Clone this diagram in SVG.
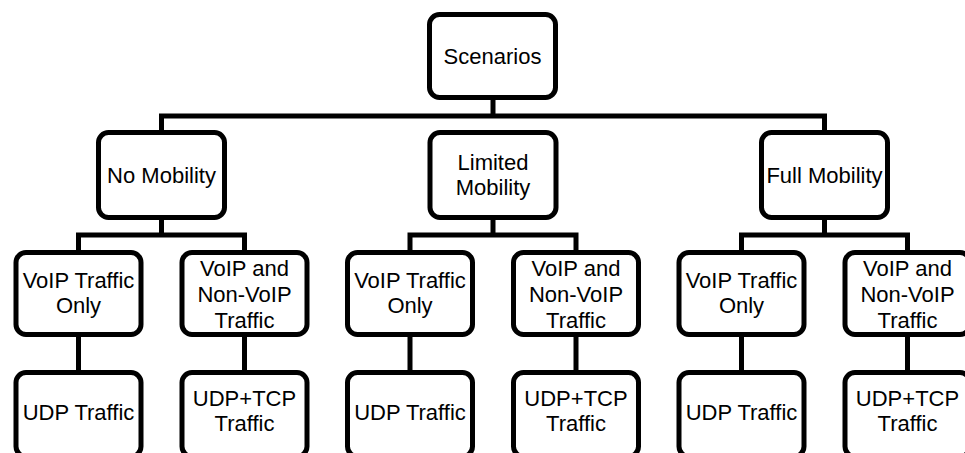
<svg xmlns="http://www.w3.org/2000/svg" width="965" height="453" viewBox="0 0 965 453">
<style>
.box{fill:#fff;stroke:#000;stroke-width:5}
.con{fill:none;stroke:#000;stroke-width:5;stroke-linejoin:miter}
text{font-family:"Liberation Sans",Arial,sans-serif;font-size:22px;fill:#000;text-anchor:middle}
</style>
<rect width="965" height="453" fill="#fff"/>
<g id="connectors" class="con">
<path d="M493 100V116"/>
<path d="M161.5 130V116H824.5V130"/>
<path d="M161.5 220V235M78.5 250V235H244.5V250"/>
<path d="M493 220V235M410 250V235H576V250"/>
<path d="M824.5 220V235M741.5 250V235H907.5V250"/>
<path d="M78.5 337V370M244.5 337V370M410 337V370M576 337V370M741.5 337V370M907.5 337V370"/>
</g>
<g id="scenarios"><rect class="box" x="429.5" y="14.5" width="126" height="83" rx="10"/><text x="492.5" y="64">Scenarios</text></g>
<g id="no-mobility"><rect class="box" x="98.5" y="132.5" width="126" height="85" rx="10"/><text x="161.5" y="183">No Mobility</text></g>
<g id="limited-mobility"><rect class="box" x="430" y="132.5" width="126" height="85" rx="10"/><text x="493" y="170">Limited</text><text x="493" y="195">Mobility</text></g>
<g id="full-mobility"><rect class="box" x="761.5" y="132.5" width="126" height="85" rx="10"/><text x="824.5" y="183">Full Mobility</text></g>

<g id="nm-voip-only"><rect class="box" x="16" y="252.5" width="125" height="82" rx="10"/><text x="78.5" y="288">VoIP Traffic</text><text x="78.5" y="313">Only</text></g>
<g id="nm-voip-nonvoip"><rect class="box" x="182" y="252.5" width="125" height="82" rx="10"/><text x="244.5" y="276">VoIP and</text><text x="244.5" y="302">Non-VoIP</text><text x="244.5" y="328">Traffic</text></g>
<g id="lm-voip-only"><rect class="box" x="347.5" y="252.5" width="125" height="82" rx="10"/><text x="410" y="288">VoIP Traffic</text><text x="410" y="313">Only</text></g>
<g id="lm-voip-nonvoip"><rect class="box" x="513.5" y="252.5" width="125" height="82" rx="10"/><text x="576" y="276">VoIP and</text><text x="576" y="302">Non-VoIP</text><text x="576" y="328">Traffic</text></g>
<g id="fm-voip-only"><rect class="box" x="679" y="252.5" width="125" height="82" rx="10"/><text x="741.5" y="288">VoIP Traffic</text><text x="741.5" y="313">Only</text></g>
<g id="fm-voip-nonvoip"><rect class="box" x="845" y="252.5" width="125" height="82" rx="10"/><text x="907.5" y="276">VoIP and</text><text x="907.5" y="302">Non-VoIP</text><text x="907.5" y="328">Traffic</text></g>

<g id="nm-udp"><rect class="box" x="16" y="372.5" width="125" height="84" rx="10"/><text x="78.5" y="420">UDP Traffic</text></g>
<g id="nm-udptcp"><rect class="box" x="182" y="372.5" width="125" height="84" rx="10"/><text x="244.5" y="406">UDP+TCP</text><text x="244.5" y="431">Traffic</text></g>
<g id="lm-udp"><rect class="box" x="347.5" y="372.5" width="125" height="84" rx="10"/><text x="410" y="420">UDP Traffic</text></g>
<g id="lm-udptcp"><rect class="box" x="513.5" y="372.5" width="125" height="84" rx="10"/><text x="576" y="406">UDP+TCP</text><text x="576" y="431">Traffic</text></g>
<g id="fm-udp"><rect class="box" x="679" y="372.5" width="125" height="84" rx="10"/><text x="741.5" y="420">UDP Traffic</text></g>
<g id="fm-udptcp"><rect class="box" x="845" y="372.5" width="125" height="84" rx="10"/><text x="907.5" y="406">UDP+TCP</text><text x="907.5" y="431">Traffic</text></g>
</svg>
